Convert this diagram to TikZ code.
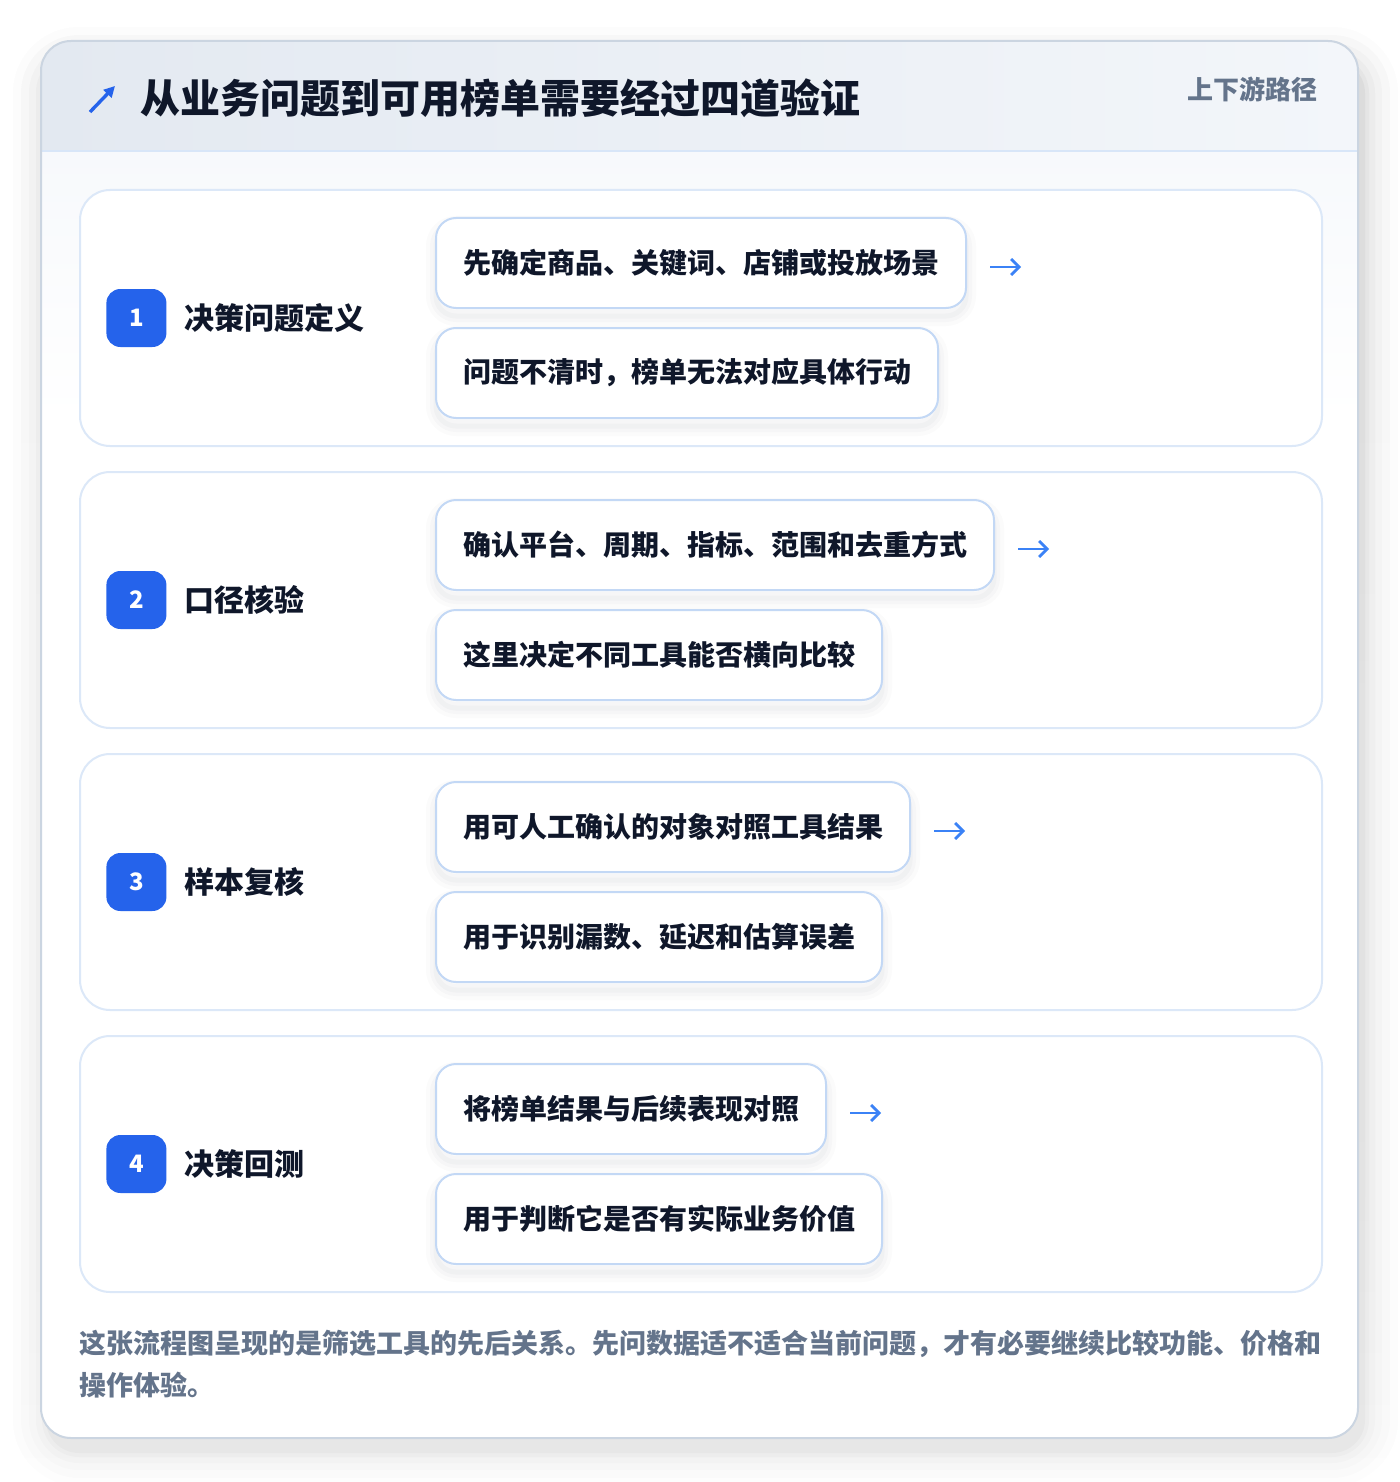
\documentclass[tikz,border=0pt]{standalone}
\usepackage{fontspec}
\setmainfont{Noto Sans CJK SC}
\newfontfamily\cjk{Noto Sans CJK SC}
\usetikzlibrary{arrows.meta}
\definecolor{ink}{HTML}{0F172A}
\definecolor{muted}{HTML}{64748B}
\definecolor{brand}{HTML}{2563EB}
\definecolor{arrowblue}{HTML}{3B82F6}
\definecolor{pillline}{HTML}{C3D8F5}
\definecolor{cardline}{HTML}{DCE8F8}
\definecolor{outerline}{HTML}{CBD5E1}
\definecolor{hdrL}{HTML}{E3E9F1}
\definecolor{hdrR}{HTML}{F3F6FA}
\definecolor{bodytop}{HTML}{F7F9FC}
\definecolor{sepline}{HTML}{D8E6F8}
\definecolor{shade}{HTML}{1E293B}
\tikzset{
  stepcard/.style={draw=cardline, line width=1pt, fill=white, rounded corners=15pt, inner sep=0pt},
  badge/.style={fill=brand, rounded corners=7pt, minimum width=30pt, minimum height=29pt, inner sep=0pt,
    text=white, font=\cjk\bfseries\fontsize{12}{12}\selectfont},
  steplabel/.style={inner sep=0pt, text=ink, font=\cjk\bfseries\fontsize{15}{18}\selectfont},
  pill/.style={draw=pillline, line width=1pt, fill=white, rounded corners=10pt, minimum height=45pt,
    inner xsep=13.5pt, inner ysep=0pt, text=ink, font=\cjk\bfseries\fontsize{14}{17}\selectfont,
    preaction={draw=shade, draw opacity=0.015, line width=10pt, transform canvas={yshift=-4pt}},
    preaction={draw=shade, draw opacity=0.02, line width=6pt, transform canvas={yshift=-4pt}},
    preaction={draw=shade, draw opacity=0.025, line width=2.5pt, transform canvas={yshift=-4pt}}},
  flowarrow/.style={draw=arrowblue, line width=1.35pt, -{Straight Barb[length=4pt,width=8pt]}},
}
\begin{document}
\begin{tikzpicture}[x=0.5pt,y=-0.5pt]
\useasboundingbox (0,0) rectangle (1400,1482);
\fill[white] (0,0) rectangle (1400,1482);
% outer card soft shadow
\foreach \d/\o in {36/0.008,28/0.01,20/0.012,13/0.015,7/0.02,3/0.025}{
  \fill[shade, fill opacity=\o, rounded corners=15pt+\d*0.5pt] (41-\d+8,41-\d+22) rectangle (1358+\d+4,1438+\d+12);
}
\fill[white, rounded corners=15pt] (41,41) rectangle (1358,1438);
\begin{scope}
  \clip[rounded corners=15pt] (41,41) rectangle (1358,1438);
  \shade[left color=hdrL, right color=hdrR] (41,41) rectangle (1358,151);
  \shade[top color=bodytop, bottom color=white] (41,151) rectangle (1358,420);
  \draw[sepline, line width=1pt] (41,151) -- (1358,151);
\end{scope}
\draw[outerline, line width=1pt, rounded corners=15pt] (41,41) rectangle (1358,1438);
% header
\coordinate (iconfrom) at (90,112);
\coordinate (iconto) at (115,86);
\draw[brand, line width=1.7pt, -{Triangle[length=5.5pt,width=5.5pt]}] (iconfrom) -- (iconto);
\node[anchor=west, inner sep=0pt, text=ink, font=\cjk\bfseries\fontsize{20}{24}\selectfont] (title) at (140,98) {从业务问题到可用榜单需要经过四道验证};
\node[anchor=east, inner sep=0pt, text=muted, font=\cjk\bfseries\fontsize{13}{16}\selectfont] (tag) at (1318,89) {上下游路径};
% steps
\foreach \i/\lab/\pa/\pb in {
  1/决策问题定义/先确定商品、关键词、店铺或投放场景/问题不清时，榜单无法对应具体行动,
  2/口径核验/确认平台、周期、指标、范围和去重方式/这里决定不同工具能否横向比较,
  3/样本复核/用可人工确认的对象对照工具结果/用于识别漏数、延迟和估算误差,
  4/决策回测/将榜单结果与后续表现对照/用于判断它是否有实际业务价值}{
  \pgfmathsetmacro\top{189+282*(\i-1)}
  \node[stepcard, anchor=north west, minimum width=621pt, minimum height=128pt] (card\i) at (79,\top) {};
  \node[badge, anchor=west] (badge\i) at (106,\top+129) {\i};
  \node[steplabel, anchor=west] (lab\i) at (184,\top+129) {\lab};
  \node[pill, anchor=north west] (pa\i) at (435,\top+28) {\pa};
  \node[pill, anchor=north west] (pb\i) at (435,\top+138) {\pb};
  \coordinate (tip\i) at ([xshift=27pt,yshift=-2pt]pa\i.east);
  \draw[flowarrow] ([xshift=11.5pt,yshift=-2pt]pa\i.east) -- (tip\i);
}
% footer
\node[anchor=west, align=left, inner sep=0pt, text=muted, font=\cjk\bfseries\fontsize{13.5}{21}\selectfont] (note) at (79,1364)
  {这张流程图呈现的是筛选工具的先后关系。先问数据适不适合当前问题，才有必要继续比较功能、价格和\\操作体验。};
\end{tikzpicture}
\end{document}
